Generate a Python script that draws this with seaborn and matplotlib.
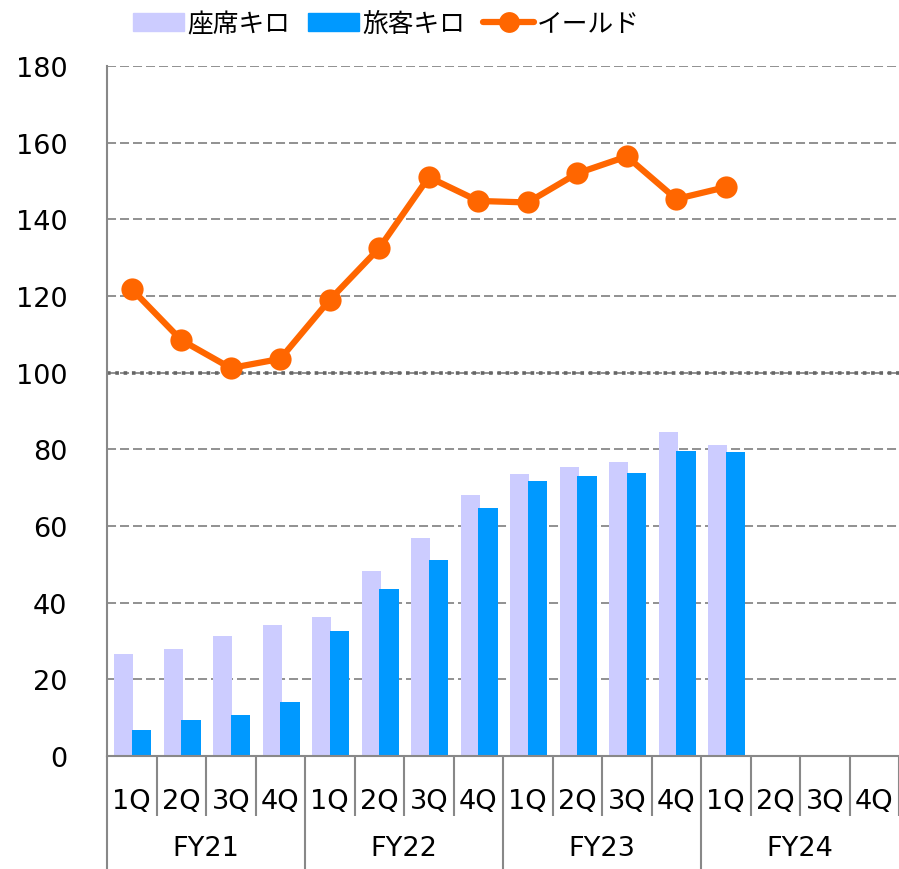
import numpy as np
import seaborn as sns
import matplotlib.pyplot as plt
import matplotlib.patches as mpatches
from matplotlib.lines import Line2D

# data
quarters = ["1Q", "2Q", "3Q", "4Q"] * 4
fiscal_years = ["FY21", "FY22", "FY23", "FY24"]
seat_km = [26.6, 27.9, 31.3, 34.2, 36.3, 48.3, 56.9, 68.1,
           73.6, 75.4, 76.7, 84.5, 81.1]
passenger_km = [6.8, 9.4, 10.7, 14.1, 32.6, 43.6, 51.1, 64.7,
                71.7, 73.0, 73.8, 79.6, 79.3]
yield_idx = [121.8, 108.5, 101.2, 103.6, 119.0, 132.5, 151.0, 144.8,
             144.4, 152.0, 156.4, 145.3, 148.4]

SEAT_C = "#CCCCFF"
PAX_C = "#0099FF"
YIELD_C = "#FF6600"
GRID_C = "#888888"

sns.set_style("white")
plt.rcParams["font.family"] = ["DejaVu Sans", "Noto Sans CJK JP"]
plt.rcParams["text.color"] = "black"

fig = plt.figure(figsize=(8.99, 8.70), dpi=100)
ax = fig.add_axes([107 / 899, 113 / 870, 792 / 899, 690 / 870])

pos = np.arange(len(quarters))
n = len(seat_km)

sns.barplot(x=pos[:n] - 0.16, y=seat_km, native_scale=True, width=0.39,
            color=SEAT_C, saturation=1, linewidth=0, ax=ax, zorder=3)
sns.barplot(x=pos[:n] + 0.2, y=passenger_km, native_scale=True, width=0.39,
            color=PAX_C, saturation=1, linewidth=0, ax=ax, zorder=3)
sns.lineplot(x=pos[:n], y=yield_idx, color=YIELD_C, linewidth=4.5,
             marker="o", markersize=16, markeredgewidth=0, ax=ax, zorder=5)

ax.set_xlim(-0.5, 15.5)
ax.set_ylim(0, 180)
ax.set_yticks(np.arange(0, 181, 20))
ax.set_xlabel("")
ax.set_ylabel("")

# gridlines
ax.yaxis.grid(True, color=GRID_C, linewidth=1.3, linestyle=(0, (5, 2.2)), zorder=0)
ax.xaxis.grid(False)
ax.set_axisbelow(True)
ax.axhline(100, color="#666666", linewidth=2.6, linestyle=(0, (1, 1.3)), zorder=1)

for side in ["top", "right"]:
    ax.spines[side].set_visible(False)
for side in ["left", "bottom"]:
    ax.spines[side].set_color(GRID_C)
    ax.spines[side].set_linewidth(1.5)
    ax.spines[side].set_zorder(4)

ax.tick_params(axis="y", length=6.5, width=1.5, color=GRID_C, pad=22,
               labelsize=19.5, labelcolor="black")

# category axis: quarters and fiscal years
ax.set_xticks(pos, quarters)
ax.set_xticks([1.5, 5.5, 9.5, 13.5], fiscal_years, minor=True)
ax.tick_params(axis="x", which="major", length=0, pad=23, labelsize=19.5,
               labelcolor="black")
ax.tick_params(axis="x", which="minor", length=0, pad=57, labelsize=19.5,
               labelcolor="black")

xt = ax.get_xaxis_transform()
inner = [b for b in np.arange(-0.5, 16, 1) if b not in (-0.5, 3.5, 7.5, 11.5)]
ax.vlines(inner, -60 / 690, 0, transform=xt, color=GRID_C, linewidth=1.5,
          clip_on=False)
ax.vlines([-0.5, 3.5, 7.5, 11.5], -113 / 690, 0, transform=xt, color=GRID_C,
          linewidth=1.5, clip_on=False)

handles = [
    mpatches.Patch(color=SEAT_C, label="座席キロ"),
    mpatches.Patch(color=PAX_C, label="旅客キロ"),
    Line2D([], [], color=YIELD_C, linewidth=4.5, marker="o", markersize=15,
           markeredgewidth=0, label="イールド"),
]
leg = fig.legend(handles=handles, loc="upper left",
                 bbox_to_anchor=(133 / 899, 0.986), ncol=3, frameon=False,
                 fontsize=18.5, borderpad=0, borderaxespad=0,
                 handlelength=2.0, handleheight=0.7, handletextpad=0.1,
                 columnspacing=0.7)
for t in leg.get_texts():
    t.set_color("black")

fig.savefig("out.png", dpi=100)
